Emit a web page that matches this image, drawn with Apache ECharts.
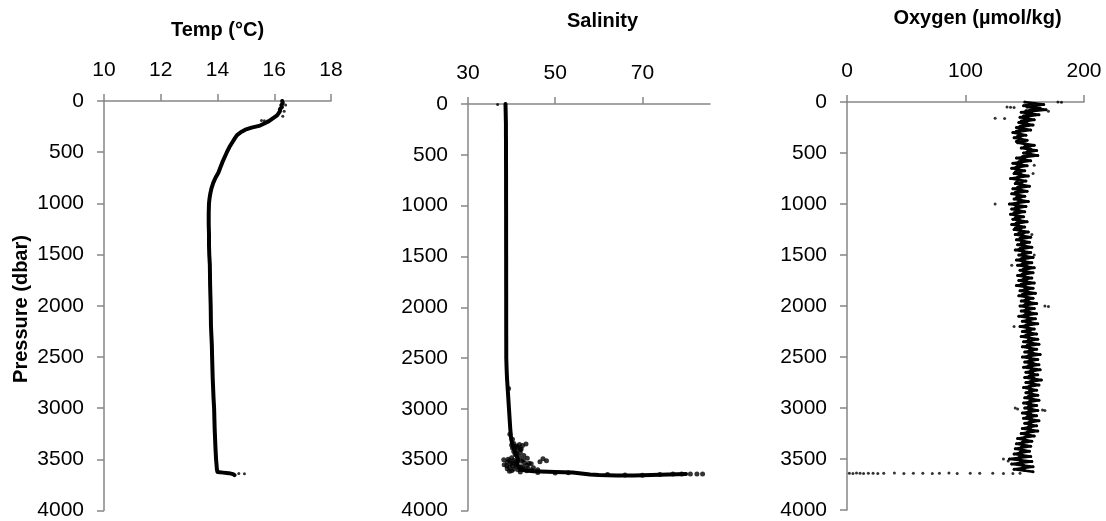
<!DOCTYPE html>
<html><head><meta charset="utf-8">
<script src="https://cdn.jsdelivr.net/npm/echarts@6/dist/echarts.min.js"></script>
<style>html,body{margin:0;padding:0;background:#fff}#c{width:1106px;height:521px}</style>
</head><body><div id="c"></div>
<script>
// ---- Data ----
const pressureTicks = [0, 500, 1000, 1500, 2000, 2500, 3000, 3500, 4000];

// Temperature profile (°C) vs pressure (dbar)
const tempDepth = [0, 20, 40, 60, 80, 100, 120, 140, 160, 180, 200, 220, 240, 260, 280, 300, 330, 360, 400, 450, 500, 550, 600, 650, 700, 750, 800, 850, 900, 950, 1000, 1100, 1200, 1300, 1400, 1500, 1600, 1800, 2000, 2200, 2380, 2500, 2700, 2900, 3000, 3200, 3400, 3500, 3600, 3625, 3630, 3635, 3645, 3655];
const tempValue = [16.28, 16.3, 16.25, 16.27, 16.2, 16.2, 16.15, 16.1, 16.0, 15.9, 15.8, 15.65, 15.5, 15.2, 14.98, 14.85, 14.7, 14.62, 14.53, 14.42, 14.33, 14.25, 14.17, 14.1, 14.03, 13.93, 13.85, 13.79, 13.75, 13.72, 13.7, 13.69, 13.69, 13.7, 13.7, 13.71, 13.73, 13.74, 13.76, 13.77, 13.8, 13.81, 13.83, 13.86, 13.88, 13.9, 13.93, 13.95, 13.98, 14.0, 14.2, 14.4, 14.55, 14.6];
const tempDotDepth = [3638, 3640, 190, 192, 195, 100, 40, 150];
const tempDotValue = [14.75, 14.95, 15.55, 15.65, 15.75, 16.35, 16.4, 16.3];

// Salinity profile vs pressure
const salDepth = [0, 100, 200, 300, 400, 500, 700, 900, 1100, 1300, 1500, 1700, 1900, 2100, 2300, 2500, 2600, 2700, 2800, 2900, 3000, 3100, 3200, 3300, 3350, 3400, 3450, 3500, 3550, 3600, 3615, 3620, 3625, 3635, 3645, 3650, 3655, 3655, 3650, 3645, 3640];
const salValue = [38.6, 38.65, 38.7, 38.7, 38.72, 38.72, 38.73, 38.73, 38.74, 38.74, 38.75, 38.75, 38.76, 38.76, 38.77, 38.78, 38.85, 38.95, 39.1, 39.25, 39.4, 39.55, 39.7, 39.9, 40.2, 40.6, 41.0, 41.5, 41.3, 42.0, 45.0, 50.0, 54.0, 56.0, 58.0, 60.0, 64.0, 68.0, 72.0, 76.0, 80.0];
const salDotDepth = [3340, 3345, 3350, 3360, 3370, 3380, 3400, 3420, 3440, 3460, 3480, 3490, 3500, 3510, 3520, 3530, 3540, 3550, 3560, 3570, 3580, 3590, 3600, 3610, 3520, 3510, 3600, 3615, 3620, 3625, 3630, 3628, 3645, 3650, 3652, 3645, 3642, 3640, 3640, 3640, 3640,
  3355, 3365, 3385, 3395, 3410, 3430, 3450, 3470, 3485, 3495, 3505, 3515, 3525, 3535, 3545, 3555, 3565, 3575, 3585, 3595, 3605, 3500, 3530, 3560, 3590, 3610, 3540, 3570, 2800, 3250, 3300];
const salDotValue = [40.5, 43.3, 41.8, 42.5, 40.8, 41.5, 42.0, 40.5, 41.2, 42.8, 40.0, 47.2, 38.2, 39.5, 41.0, 43.0, 44.5, 38.3, 40.2, 42.5, 45.0, 39.0, 41.5, 43.5, 46.5, 48.0, 46.0, 39.5, 42.0, 46.0, 50.0, 53.0, 62.0, 66.0, 70.0, 74.0, 77.0, 79.0, 81.0, 82.5, 83.8,
  40.0, 41.2, 40.2, 42.2, 41.0, 42.0, 40.8, 41.8, 43.6, 39.2, 40.5, 42.3, 39.0, 44.0, 41.0, 43.5, 41.0, 39.5, 43.8, 40.5, 44.6, 42.6, 40.2, 38.9, 42.8, 40.0, 39.8, 42.0, 39.3, 39.6, 40.2];
const salSurfaceDotDepth = [5];
const salSurfaceDotValue = [36.8];

// Oxygen profile (µmol/kg) vs pressure, every 25 dbar
const oxyDepth = [];
for (let p = 0; p <= 3625; p += 25) oxyDepth.push(p);
const oxyValue = [
  150, 166, 152, 168, 147, 162, 146, 158, 145, 157, 143, 155, 140, 151, 141, 152, 144, 158, 147, 160,
  149, 161, 143, 155, 140, 152, 139, 150, 141, 153, 138, 151, 142, 154, 140, 152, 139, 150, 141, 153,
  137, 151, 139, 150, 138, 149, 140, 152, 139, 150, 141, 153, 142, 155, 143, 154, 144, 156, 142, 155,
  145, 157, 143, 156, 144, 158, 146, 157, 144, 156, 145, 158, 143, 157, 146, 159, 145, 157, 147, 160,
  146, 158, 147, 160, 145, 159, 148, 161, 146, 158, 148, 160, 147, 161, 149, 162, 148, 160, 150, 163,
  148, 161, 150, 162, 149, 163, 151, 161, 150, 164, 151, 162, 149, 160, 151, 161, 150, 162, 149, 160,
  150, 161, 148, 160, 149, 162, 150, 160, 148, 161, 147, 158, 144, 156, 143, 155, 142, 154, 141, 155,
  137, 156, 139, 157, 141, 157
];
// Second, offset trace of the oxygen band (readings between the 25-dbar ones)
const oxyDepth2 = [];
for (let p = 12; p <= 3612; p += 25) oxyDepth2.push(p);
const oxyValue2 = [
  158, 149, 163, 151, 156, 149, 153, 147, 152, 146, 149, 143, 146, 144, 147, 143, 151, 150, 155, 152,
  155, 148, 150, 145, 147, 143, 145, 142, 147, 144, 145, 143, 148, 144, 147, 142, 145, 143, 147, 144,
  144, 142, 145, 141, 143, 142, 146, 143, 145, 142, 147, 145, 149, 146, 148, 147, 150, 146, 149, 148,
  151, 147, 150, 148, 152, 149, 151, 148, 150, 149, 152, 147, 151, 150, 153, 148, 152, 151, 154, 150,
  152, 151, 154, 150, 153, 152, 155, 151, 153, 152, 155, 151, 154, 153, 156, 152, 155, 154, 157, 153,
  155, 154, 157, 153, 156, 155, 157, 154, 158, 155, 157, 154, 155, 154, 156, 153, 156, 154, 155, 153,
  156, 153, 155, 152, 156, 154, 155, 153, 155, 152, 153, 150, 150, 148, 149, 147, 148, 146, 148, 145,
  147, 146, 149, 148, 150
];
const oxyDotDepth = [0, 2, 50, 52, 55, 160, 162, 1000, 3000, 3010, 3020, 3025, 2000, 2005, 3500, 3520, 620, 700, 1300, 1500, 1600, 2200, 90, 3640, 3642, 3638, 3640, 3641, 3639, 3640, 3642, 3640, 3638, 3641, 3640, 3639, 3642, 3640, 3638, 3641, 3640, 3639, 3640, 3642, 3641, 3640];
const oxyDotValue = [178, 181, 135, 138, 141, 125, 133, 125, 142, 144, 165, 167, 167, 170, 132, 136, 158, 157, 156, 158, 139, 141, 170, 2, 5, 8, 11, 14, 18, 22, 26, 31, 40, 48, 56, 64, 72, 78, 86, 93, 104, 112, 123, 132, 140, 146];

// ---- Chart ----
const pair = (xs, ys) => xs.map((p, i) => [ys[i], p]);
const FONT = '"Liberation Sans", Arial, sans-serif';
const AX = '#868686';
const plain = v => String(v);

function yAxis(i) {
  return {
    type: 'value', gridIndex: i, inverse: true, min: 0, max: 4000, interval: 500,
    axisLine: { show: true, lineStyle: { color: AX, width: 1.5 } },
    axisTick: { show: true, length: 7, lineStyle: { color: AX, width: 1.5 } },
    axisLabel: { fontSize: 21, color: '#000', margin: 20, fontFamily: FONT, formatter: plain },
    splitLine: { show: false }
  };
}
function xAxis(i, min, max, interval, ticks) {
  const a = {
    type: 'value', gridIndex: i, position: 'top', min, max, interval,
    axisLine: { show: true, onZero: false, lineStyle: { color: AX, width: 1.5 } },
    axisTick: { show: true, length: 7, lineStyle: { color: AX, width: 1.5 } },
    axisLabel: { fontSize: 21, color: '#000', margin: 20, fontFamily: FONT, formatter: plain },
    splitLine: { show: false }
  };
  if (ticks) { a.axisTick.customValues = ticks; a.axisLabel.customValues = ticks; }
  return a;
}

const chart = echarts.init(document.getElementById('c'), null, { renderer: 'canvas' });
chart.setOption({
  animation: false,
  backgroundColor: '#fff',
  grid: [
    { left: 104, top: 101, width: 227, height: 411 },
    { left: 468, top: 104, width: 242, height: 408 },
    { left: 847, top: 102, width: 237, height: 408 }
  ],
  xAxis: [
    xAxis(0, 10, 18, 2),
    xAxis(1, 30, 85.5, 20, [30, 50, 70]),
    xAxis(2, 0, 200, 100)
  ],
  yAxis: [yAxis(0), yAxis(1), yAxis(2)],
  graphic: [
    { type: 'text', x: 217.5, y: 30, style: { text: 'Temp (°C)', font: 'bold 20px ' + FONT, fill: '#000', align: 'center', verticalAlign: 'middle' } },
    { type: 'text', x: 602.5, y: 21, style: { text: 'Salinity', font: 'bold 20px ' + FONT, fill: '#000', align: 'center', verticalAlign: 'middle' } },
    { type: 'text', x: 977.5, y: 18, style: { text: 'Oxygen (µmol/kg)', font: 'bold 20px ' + FONT, fill: '#000', align: 'center', verticalAlign: 'middle' } },
    { type: 'text', x: 21, y: 309, rotation: Math.PI / 2, style: { text: 'Pressure (dbar)', font: 'bold 20px ' + FONT, fill: '#000', align: 'center', verticalAlign: 'middle' } }
  ],
  series: [
    { type: 'line', xAxisIndex: 0, yAxisIndex: 0, data: pair(tempDepth, tempValue), showSymbol: false, lineStyle: { color: '#000', width: 4, cap: 'round', join: 'round' } },
    { type: 'scatter', xAxisIndex: 0, yAxisIndex: 0, data: pair(tempDotDepth, tempDotValue), symbolSize: 3, itemStyle: { color: '#000' } },
    { type: 'line', xAxisIndex: 1, yAxisIndex: 1, data: pair(salDepth, salValue), showSymbol: false, lineStyle: { color: '#000', width: 4, cap: 'round', join: 'round' } },
    { type: 'scatter', xAxisIndex: 1, yAxisIndex: 1, data: pair(salDotDepth, salDotValue), symbolSize: 5, itemStyle: { color: '#000' } },
    { type: 'scatter', xAxisIndex: 1, yAxisIndex: 1, data: pair(salSurfaceDotDepth, salSurfaceDotValue), symbolSize: 3, itemStyle: { color: '#000' } },
    { type: 'line', xAxisIndex: 2, yAxisIndex: 2, data: pair(oxyDepth, oxyValue), showSymbol: true, symbol: 'circle', symbolSize: 3, itemStyle: { color: '#000' }, lineStyle: { color: '#000', width: 2.5, join: 'round' } },
    { type: 'line', xAxisIndex: 2, yAxisIndex: 2, data: pair(oxyDepth2, oxyValue2), showSymbol: true, symbol: 'circle', symbolSize: 3, itemStyle: { color: '#000' }, lineStyle: { color: '#000', width: 2.5, join: 'round' } },
    { type: 'scatter', xAxisIndex: 2, yAxisIndex: 2, data: pair(oxyDotDepth, oxyDotValue), symbolSize: 3, itemStyle: { color: '#000' } }
  ]
});
</script></body></html>
